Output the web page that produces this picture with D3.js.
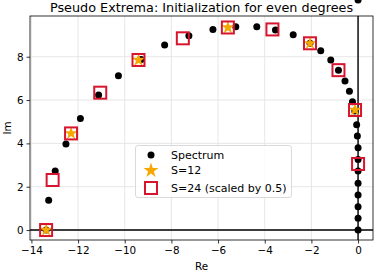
<!DOCTYPE html>
<html><head><meta charset="utf-8">
<script src="https://cdn.jsdelivr.net/npm/d3@7"></script>
<style>body{margin:0;background:#fff}svg{display:block}text{font-family:"DejaVu Sans",sans-serif;fill:#000}</style>
</head><body><svg id="c" width="374" height="274"></svg>
<script>
const spectrumRe = [-13.37,-13.26,-12.98,-12.52,-11.90,-11.12,-10.27,-9.30,-8.29,-7.25,-6.22,-5.24,-4.34,-3.54,-2.78,-2.06,-1.60,-1.17,-0.84,-0.56,-0.37,-0.24,-0.14,-0.06,-0.03,0,0,0,0,0,0,0,0,0];
const spectrumIm = [0,1.38,2.72,3.97,5.15,6.23,7.12,7.87,8.54,8.97,9.26,9.38,9.38,9.23,9.01,8.62,8.28,7.85,7.38,6.88,6.41,5.92,5.50,4.86,4.34,3.80,3.26,2.72,2.16,1.62,1.08,0.54,0];
const s12Re = [-13.37,-12.30,-9.41,-5.58,-2.06,-0.13];
const s12Im = [0,4.46,7.85,9.35,8.62,5.54];
const s24Re = [-13.37,-13.09,-12.30,-11.05,-9.41,-7.51,-5.58,-3.67,-2.06,-0.84,-0.13,0];
const s24Im = [0,2.31,4.46,6.34,7.85,8.85,9.35,9.26,8.62,7.38,5.54,3.05];
const xTicks = [-14,-12,-10,-8,-6,-4,-2,0];
const yTicks = [0,2,4,6,8];
const legendLabels = ["Spectrum","S=12","S=24 (scaled by 0.5)"];
const title = "Pseudo Extrema: Initialization for even degrees";

const svg = d3.select("#c");
const L=30, R=373, T=16, B=240;
const x = d3.scaleLinear().domain([-14.06,0.64]).range([L,R]);
const y = d3.scaleLinear().domain([-0.46,9.88]).range([B,T]);

// grid
svg.append("g").selectAll("line").data(xTicks).join("line")
  .attr("x1",d=>x(d)).attr("x2",d=>x(d)).attr("y1",T).attr("y2",B)
  .attr("stroke","#e3e3e3").attr("stroke-width",0.9);
svg.append("g").selectAll("line").data(yTicks).join("line")
  .attr("y1",d=>y(d)).attr("y2",d=>y(d)).attr("x1",L).attr("x2",R)
  .attr("stroke","#e3e3e3").attr("stroke-width",0.9);

// zero lines
svg.append("line").attr("x1",L).attr("x2",R).attr("y1",y(0)).attr("y2",y(0)).attr("stroke","#000").attr("stroke-width",1.4);
svg.append("line").attr("x1",x(0)).attr("x2",x(0)).attr("y1",T).attr("y2",B).attr("stroke","#000").attr("stroke-width",1.4);

const fmt = d => d<0 ? "\u2212"+Math.abs(d) : String(d);
const xa = svg.append("g").attr("transform",`translate(0,${B})`)
  .call(d3.axisBottom(x).tickValues(xTicks).tickFormat(fmt).tickSize(3.5).tickPadding(3));
const ya = svg.append("g").attr("transform",`translate(${L},0)`)
  .call(d3.axisLeft(y).tickValues(yTicks).tickFormat(fmt).tickSize(3.5).tickPadding(3));
[xa,ya].forEach(a=>{a.select(".domain").remove();a.selectAll("text").attr("font-size",10.4).attr("font-family","DejaVu Sans").attr("fill","#000");a.selectAll("line").attr("stroke","#000").attr("stroke-width",0.8);});

// frame
svg.append("rect").attr("x",L).attr("y",T).attr("width",R-L).attr("height",B-T).attr("fill","none").attr("stroke","#000").attr("stroke-width",0.8);

const red = "#d7152e", orange = "#f6a800";
const star = d3.symbol().type(d3.symbolStar);

const g = svg.append("g");
g.selectAll("circle").data(d3.range(spectrumRe.length)).join("circle")
  .attr("cx",i=>x(spectrumRe[i])).attr("cy",i=>y(spectrumIm[i])).attr("r",3.5).attr("fill","#000");
g.selectAll("path.s").data(d3.range(s12Re.length)).join("path").attr("class","s")
  .attr("d",star.size(55)()).attr("transform",i=>`translate(${x(s12Re[i])},${y(s12Im[i])})`).attr("fill",orange);
g.selectAll("rect.b").data(d3.range(s24Re.length)).join("rect").attr("class","b")
  .attr("x",i=>x(s24Re[i])-6).attr("y",i=>y(s24Im[i])-6).attr("width",12).attr("height",12)
  .attr("fill","none").attr("stroke",red).attr("stroke-width",2);

// legend
const lg = svg.append("g");
lg.append("rect").attr("x",135.5).attr("y",145.5).attr("width",156).attr("height",52).attr("rx",2.5)
  .attr("fill","#fff").attr("fill-opacity",0.8).attr("stroke","#d0d0d0").attr("stroke-width",0.8);
const rows=[155,170.5,188];
lg.append("circle").attr("cx",151).attr("cy",rows[0]).attr("r",3.5).attr("fill","#000");
lg.append("path").attr("d",star.size(70)()).attr("transform",`translate(151,${rows[1]})`).attr("fill",orange);
lg.append("rect").attr("x",145).attr("y",rows[2]-6).attr("width",12).attr("height",12).attr("fill","none").attr("stroke",red).attr("stroke-width",2);
lg.selectAll("text").data(legendLabels).join("text").attr("x",171).attr("y",(d,i)=>rows[i]+3.9).attr("font-size",11).text(d=>d);

// titles
svg.append("text").attr("x",(L+R)/2).attr("y",12).attr("text-anchor","middle").attr("font-size",12.8).text(title);
svg.append("text").attr("x",(L+R)/2).attr("y",270).attr("text-anchor","middle").attr("font-size",10.4).text("Re");
svg.append("text").attr("transform",`translate(11,${(T+B)/2}) rotate(-90)`).attr("text-anchor","middle").attr("font-size",10.4).text("Im");
</script></body></html>
